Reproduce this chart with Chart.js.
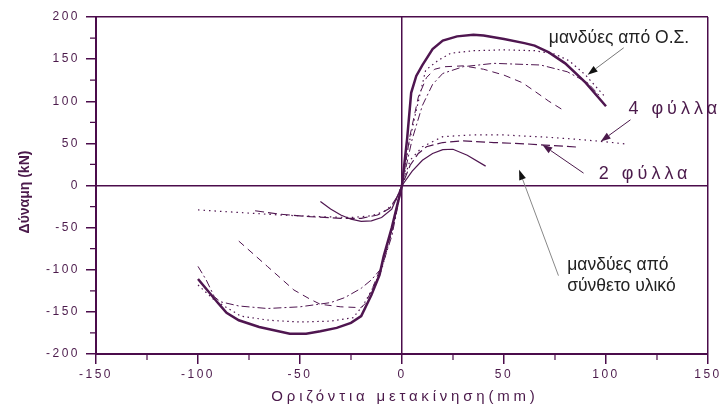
<!DOCTYPE html>
<html>
<head>
<meta charset="utf-8">
<script src="https://cdn.jsdelivr.net/npm/chart.js@4.4.0/dist/chart.umd.min.js"></script>
<style>
  html, body { margin: 0; padding: 0; background: #fff; }
</style>
</head>
<body>
<canvas id="myChart" width="721" height="409"></canvas>
<script>
// steel jackets (Ο.Σ.) - four specimens
const osSolidX = [-100, -90, -86, -80, -70, -55, -47, -40, -32, -25, -20, -15, -11, -9, -5, -2, 0, 2.5, 4.5, 7, 10, 15, 20, 27, 35, 40, 50, 60, 65, 72, 80, 90, 100];
const osSolidY = [-111, -140, -151, -160, -168, -176, -176, -173, -169, -163, -155, -130, -106, -84, -50, -20, 0, 55, 110, 130, 143, 162, 172, 177, 179, 178, 174, 169, 166, 158, 145, 122, 94];

const osDotX = [-100, -92, -79, -65, -50, -35, -24, -19, -15, -10, -5, 0, 3, 6.7, 11.6, 18, 24, 35, 50, 65, 75, 82, 90, 100];
const osDotY = [-118, -136, -155, -160, -162, -161, -157, -142, -125, -100, -55, 0, 45, 86, 137, 149, 157, 160, 161, 160, 156, 148, 131, 104];

const osDashDotX = [-100, -96, -92, -89, -80, -66, -50, -35, -28, -20, -15, -10, -5, 0, 5, 10, 15, 20, 30, 45, 68, 81, 91, 97];
const osDashDotY = [-96, -112, -132, -138, -143, -146, -144, -139, -133, -122, -112, -98, -60, 0, 55, 95, 120, 133, 141, 145, 143, 135, 122, 106];

const osDashX = [-80, -66, -53, -45, -40, -30, -20, -18, -15, -10, -5, 0, 4, 8, 12, 16, 21, 30, 40, 50, 59, 65, 72, 80];
const osDashY = [-66, -96, -124, -135, -141, -144, -145, -140, -125, -95, -55, 0, 60, 105, 128, 138, 141, 142, 138, 131, 122, 112, 100, 88];

// FRP jackets (σύνθετο υλικό)
const frp4X = [-100, -80, -60, -40, -25, -15, -8, -3, 0, 4, 10, 20, 34, 50, 61, 70, 85, 97, 109];
const frp4Y = [-29, -32, -35, -37, -38, -36, -30, -18, 0, 30, 46, 58, 60, 60, 58.5, 57.5, 55, 52.5, 49.5];

const frp2X = [-72, -60, -45, -30, -20, -12, -6, -2, 0, 4, 8, 12, 20, 30, 45, 60, 70, 86];
const frp2Y = [-30, -34, -37, -39, -39, -35, -27, -12, 0, 24, 38, 46, 51, 53, 51, 49.5, 48, 45.6];

const frpSolidX = [-40, -35, -30, -25, -20, -15, -10, -5, 0, 5, 10, 15, 20, 25, 32, 41];
const frpSolidY = [-19, -28, -35, -40, -42.5, -42, -38, -28, 0, 17, 30, 38, 42.5, 43, 36, 23];

const xTicks = [-150, -100, -50, 0, 50, 100, 150];
const yTicks = [-200, -150, -100, -50, 0, 50, 100, 150, 200];

const AXIS = "#4b0c4b";
const LINE = "#4f1650";
const TEXT = "#4b1a4b";
const FONT = "'Liberation Sans', Arial, sans-serif";

function pts(xs, ys) {
  return xs.map((x, i) => ({ x: x, y: ys[i] }));
}

function series(xs, ys, width, dash) {
  return {
    data: pts(xs, ys),
    showLine: true,
    borderColor: LINE,
    borderWidth: width,
    borderDash: dash,
    pointRadius: 0,
    fill: false,
    tension: 0
  };
}

// annotation texts and arrows, in data coordinates
const notes = [
  { text: "μανδύες από Ο.Σ.", x: 72, y: 175, size: 17.5, color: "#222", spacing: 0 },
  { text: "4 φύλλα", x: 111, y: 91, size: 18, color: TEXT, spacing: 4 },
  { text: "2 φύλλα", x: 96.5, y: 14, size: 18, color: TEXT, spacing: 4 },
  { text: "μανδύες από", x: 81, y: -94, size: 17.5, color: "#222", spacing: 0 },
  { text: "σύνθετο υλικό", x: 81, y: -120, size: 17.5, color: "#222", spacing: 0 }
];
const arrows = [
  { from: [108.7, 163.5], to: [91, 131.5], line: "#777", head: "#111" },
  { from: [112, 78], to: [97.4, 52.3], line: TEXT, head: TEXT },
  { from: [89, 14.7], to: [68.8, 48.3], line: TEXT, head: TEXT },
  { from: [76.7, -107], to: [57.4, 18.6], line: "#888", head: "#111" }
];

const decorPlugin = {
  id: "decor",
  beforeDraw(chart) {
    chart.ctx.letterSpacing = "2.5px";
  },
  beforeDatasetsDraw(chart) {
    const ctx = chart.ctx;
    ctx.letterSpacing = "0px";
    // minor ticks
    const xs = chart.scales.x, ys = chart.scales.y;
    ctx.save();
    ctx.strokeStyle = AXIS;
    ctx.lineWidth = 1.2;
    ctx.beginPath();
    [-125, -75, -25, 25, 75, 125].forEach(v => {
      const px = xs.getPixelForValue(v);
      ctx.moveTo(px, chart.chartArea.bottom);
      ctx.lineTo(px, chart.chartArea.bottom + 6);
    });
    [-175, -125, -75, -25, 25, 75, 125, 175].forEach(v => {
      const py = ys.getPixelForValue(v);
      ctx.moveTo(chart.chartArea.left, py);
      ctx.lineTo(chart.chartArea.left - 6, py);
    });
    ctx.stroke();
    ctx.restore();
  },
  afterDraw(chart) {
    const ctx = chart.ctx;
    const xs = chart.scales.x, ys = chart.scales.y;
    const area = chart.chartArea;
    ctx.save();

    // axis titles
    ctx.fillStyle = TEXT;
    ctx.textAlign = "center";
    ctx.textBaseline = "middle";
    ctx.font = "15px " + FONT;
    ctx.letterSpacing = "3.8px";
    ctx.fillText("Οριζόντια μετακίνηση(mm)", (area.left + area.right) / 2 + 3, 397);
    ctx.letterSpacing = "0px";
    ctx.save();
    ctx.translate(25, 192);
    ctx.rotate(-Math.PI / 2);
    ctx.font = "bold 14px " + FONT;
    ctx.fillText("Δύναμη (kN)", 0, 0);
    ctx.restore();

    // arrows
    arrows.forEach(a => {
      const x1 = xs.getPixelForValue(a.from[0]), y1 = ys.getPixelForValue(a.from[1]);
      const x2 = xs.getPixelForValue(a.to[0]), y2 = ys.getPixelForValue(a.to[1]);
      const ang = Math.atan2(y2 - y1, x2 - x1);
      const len = 10, half = 3.5;
      const bx = x2 - len * Math.cos(ang), by = y2 - len * Math.sin(ang);
      ctx.strokeStyle = a.line;
      ctx.lineWidth = 1;
      ctx.beginPath();
      ctx.moveTo(x1, y1);
      ctx.lineTo(bx, by);
      ctx.stroke();
      ctx.fillStyle = a.head;
      ctx.beginPath();
      ctx.moveTo(x2, y2);
      ctx.lineTo(bx + half * Math.sin(ang), by - half * Math.cos(ang));
      ctx.lineTo(bx - half * Math.sin(ang), by + half * Math.cos(ang));
      ctx.closePath();
      ctx.fill();
    });

    // annotation texts
    ctx.textAlign = "left";
    ctx.textBaseline = "middle";
    notes.forEach(n => {
      ctx.font = n.size + "px " + FONT;
      ctx.letterSpacing = n.spacing + "px";
      ctx.fillStyle = n.color;
      ctx.fillText(n.text, xs.getPixelForValue(n.x), ys.getPixelForValue(n.y));
    });
    ctx.restore();
  }
};

function edgeColor(values) {
  return c => (values.includes(c.tick.value) ? AXIS : "rgba(0,0,0,0)");
}

new Chart(document.getElementById("myChart"), {
  type: "scatter",
  data: {
    datasets: [
      series(osDashX, osDashY, 1, [7, 5]),
      series(osDashDotX, osDashDotY, 1, [8, 3, 2, 3]),
      series(osDotX, osDotY, 1.2, [1.5, 3.5]),
      series(osSolidX, osSolidY, 2.5, []),
      series(frp2X, frp2Y, 1.2, [9, 4]),
      series(frp4X, frp4Y, 1.2, [1.5, 4]),
      series(frpSolidX, frpSolidY, 1.2, [])
    ]
  },
  options: {
    responsive: false,
    animation: false,
    devicePixelRatio: 1,
    layout: { padding: { left: 0, right: 13, top: 17, bottom: 0 } },
    plugins: {
      legend: { display: false },
      tooltip: { enabled: false }
    },
    scales: {
      x: {
        type: "linear",
        min: -150,
        max: 150,
        afterBuildTicks: s => { s.ticks = xTicks.map(v => ({ value: v })); },
        afterFit: s => { s.height = 55; },
        ticks: {
          color: TEXT,
          font: { family: FONT, size: 12 },
          padding: 3,
          maxRotation: 0,
          autoSkip: false
        },
        grid: {
          color: edgeColor([0, 150]),
          tickColor: AXIS,
          tickLength: 10,
          lineWidth: 1.5
        },
        border: { color: AXIS, width: 2 }
      },
      y: {
        type: "linear",
        min: -200,
        max: 200,
        afterBuildTicks: s => { s.ticks = yTicks.map(v => ({ value: v })); },
        afterFit: s => { s.width = 96; },
        ticks: {
          color: TEXT,
          font: { family: FONT, size: 12 },
          padding: 6,
          autoSkip: false
        },
        grid: {
          color: edgeColor([0, 200]),
          tickColor: AXIS,
          tickLength: 10,
          lineWidth: 1.5
        },
        border: { color: AXIS, width: 2 }
      }
    }
  },
  plugins: [decorPlugin]
});
</script>
</body>
</html>
